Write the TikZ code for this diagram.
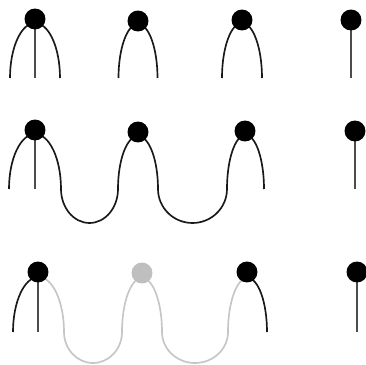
\documentclass[tikz,border=0pt]{standalone}
\usepackage{tikz}
\usetikzlibrary{backgrounds}

\begin{document}
\begin{tikzpicture}[
    x=0.02cm, y=-0.02cm,
    bead/.style   = {circle, fill=black, inner sep=0pt, minimum size=0.42cm},
    ghost/.style  = {bead, fill=gray!50},
    strand/.style = {line width=0.95pt, black!90},
    faded/.style  = {strand, gray!45},
    stem/.style   = {line width=1.1pt, black!70}
  ]
    \useasboundingbox (0,0) rectangle (366,365);

    % top row: separate loops
    \node[bead] (a1) at (35,19)  {};
    \node[bead] (a2) at (138,21) {};
    \node[bead] (a3) at (242,20) {};
    \node[bead] (a4) at (351,20) {};
    \coordinate (a1w) at (10,78);
    \coordinate (a1s) at (35,78);
    \coordinate (a2w) at (118.5,78);
    \coordinate (a3w) at (222,78);
    \coordinate (a4s) at (351,78);

    % middle row: joined strand
    \node[bead] (b1) at (35,130)  {};
    \node[bead] (b2) at (138,132) {};
    \node[bead] (b3) at (245,131) {};
    \node[bead] (b4) at (355,131) {};
    \coordinate (b1w) at (9,189);
    \coordinate (b1s) at (35,189);
    \coordinate (b4s) at (355,189);

    % bottom row: middle bead faded
    \node[bead]  (c1) at (38,272)  {};
    \node[ghost] (c2) at (142,273) {};
    \node[bead]  (c3) at (247,272) {};
    \node[bead]  (c4) at (357,272) {};
    \coordinate (c1w) at (13,332);
    \coordinate (c1s) at (38,332);
    \coordinate (c4s) at (357,332);

    \begin{scope}[on background layer]
      % top row
      \draw[strand] (a1w) arc[start angle=180, end angle=360, x radius=25, y radius=55];
      \draw[stem]   (a1.center) -- (a1s);
      \draw[strand] (a2w) arc[start angle=180, end angle=360, x radius=19.5, y radius=54];
      \draw[strand] (a3w) arc[start angle=180, end angle=360, x radius=20, y radius=55];
      \draw[stem]   (a4.center) -- (a4s);

      % middle row
      \draw[strand] (b1w) arc[start angle=180, end angle=360, x radius=26, y radius=55]
                    arc[start angle=180, end angle=0,   x radius=28.5, y radius=34]
                    arc[start angle=180, end angle=360, x radius=20, y radius=53]
                    arc[start angle=180, end angle=0,   x radius=34.5, y radius=34]
                    arc[start angle=180, end angle=360, x radius=18.5, y radius=54];
      \draw[stem]   (b1.center) -- (b1s);
      \draw[stem]   (b4.center) -- (b4s);

      % bottom row
      \path (c1w) arc[start angle=180, end angle=270, x radius=25.5, y radius=55]
            coordinate (c1t);
      \draw[faded]  (c1t) arc[start angle=270, end angle=360, x radius=25.5, y radius=55]
                    arc[start angle=180, end angle=0,   x radius=29, y radius=31]
                    arc[start angle=180, end angle=360, x radius=20, y radius=54]
                    arc[start angle=180, end angle=0,   x radius=33, y radius=31]
                    arc[start angle=180, end angle=270, x radius=19.5, y radius=54]
                    coordinate (c3t);
      \draw[strand] (c1w) arc[start angle=180, end angle=270, x radius=25.5, y radius=55];
      \draw[strand] (c3t) arc[start angle=270, end angle=360, x radius=19.5, y radius=54];
      \draw[stem]   (c1.center) -- (c1s);
      \draw[stem]   (c4.center) -- (c4s);
    \end{scope}
\end{tikzpicture}
\end{document}
